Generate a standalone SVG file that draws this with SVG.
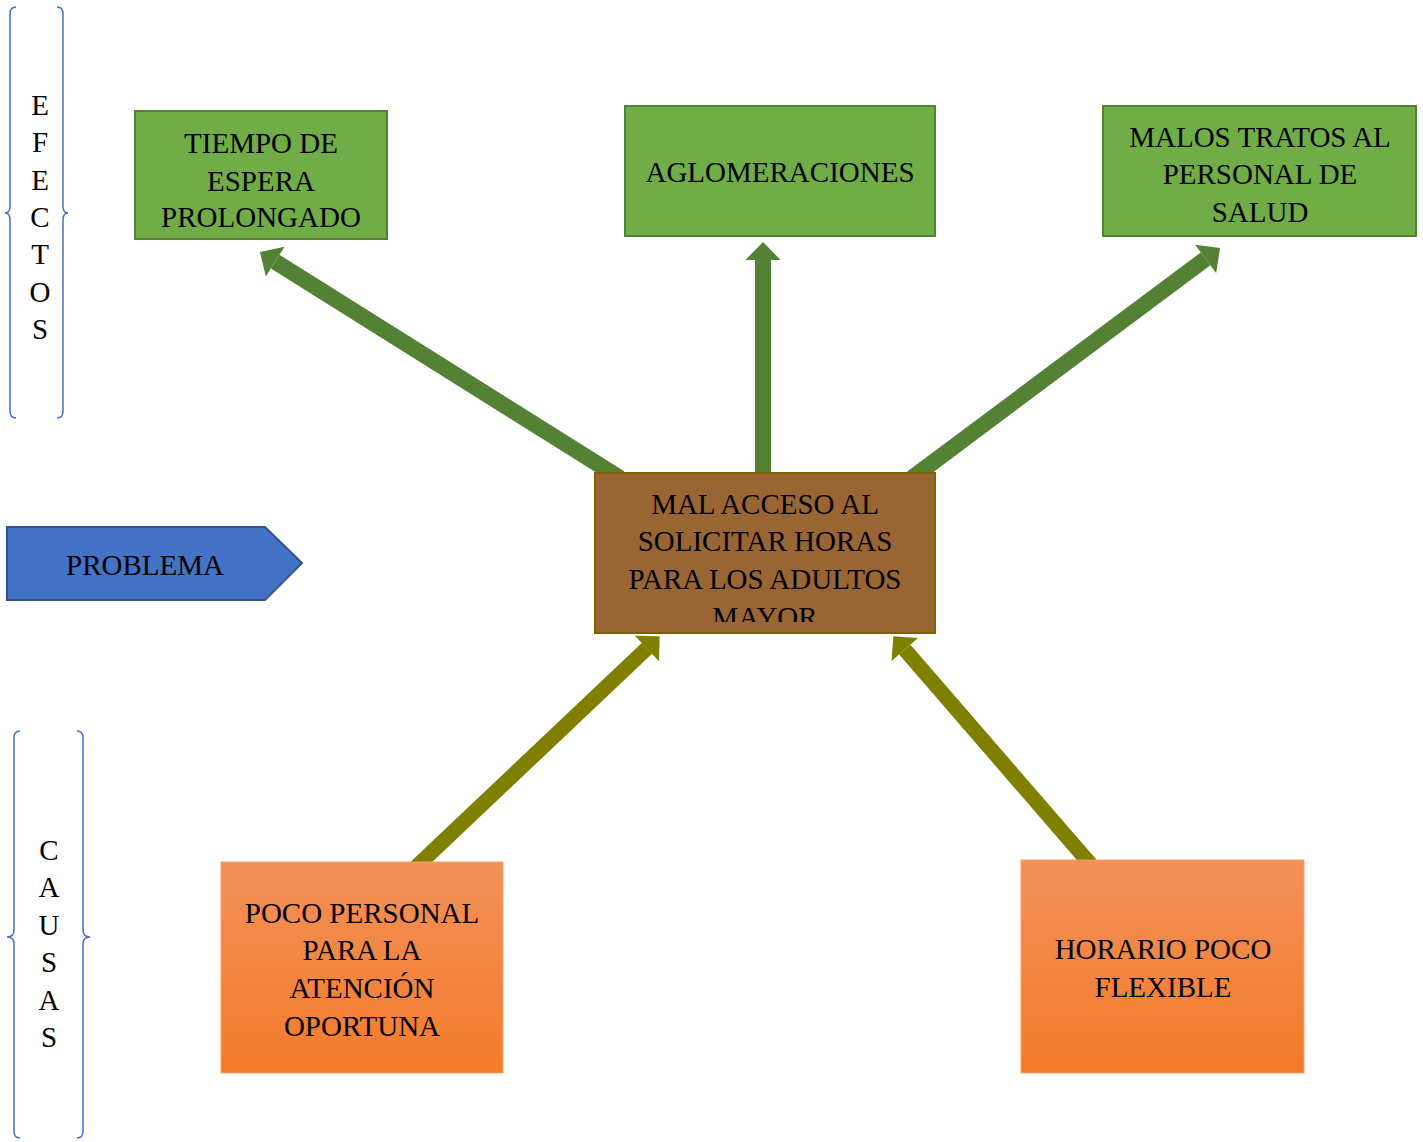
<svg xmlns="http://www.w3.org/2000/svg" width="1423" height="1142" viewBox="0 0 1423 1142">
  <style>
    .t { font-family: "Liberation Serif", "Times New Roman", serif; font-size: 29px; fill: #000; text-anchor: middle; }
    .side { font-family: "Liberation Serif", "Times New Roman", serif; font-size: 29px; fill: #000; text-anchor: middle; }
    .effect { fill: #70AD47; stroke: #548235; stroke-width: 2; }
    .cause { fill: url(#orange); stroke: #F4A46E; stroke-width: 1; }
    .brace { fill: none; stroke: #4472C4; stroke-width: 1.5; }
    .eff-arrow { stroke: #548235; stroke-width: 16; fill: none; marker-end: url(#headGreen); }
    .cau-arrow { stroke: #7F7F00; stroke-width: 15; fill: none; marker-end: url(#headOlive); }
  </style>
  <defs>
    <linearGradient id="orange" x1="0" y1="0" x2="0" y2="1">
      <stop offset="0" stop-color="#F29159"/>
      <stop offset="1" stop-color="#F47B2A"/>
    </linearGradient>
    <marker id="headGreen" markerUnits="strokeWidth" markerWidth="2" markerHeight="3" refX="0" refY="0" viewBox="0 -1.5 2 3" orient="auto" overflow="visible">
      <path d="M0,-1.1 L1.13,0 L0,1.1 z" fill="#548235"/>
    </marker>
    <marker id="headOlive" markerUnits="strokeWidth" markerWidth="2" markerHeight="3" refX="0" refY="0" viewBox="0 -1.5 2 3" orient="auto" overflow="visible">
      <path d="M0,-1.17 L1.17,0 L0,1.17 z" fill="#7F7F00"/>
    </marker>
    <clipPath id="centerClip">
      <rect x="596" y="474" width="338" height="148"/>
    </clipPath>
  </defs>

  <!-- side braces with vertical labels -->
  <g id="efectos">
    <path class="brace" d="M16,7 Q10,7 10,14 L10,206 Q10,213 5,213 Q10,213 10,220 L10,411 Q10,418 16,418"/>
    <path class="brace" d="M57,7 Q63,7 63,14 L63,206 Q63,213 68,213 Q63,213 63,220 L63,411 Q63,418 57,418"/>
    <text class="side" x="40" y="115">E</text>
    <text class="side" x="40" y="152">F</text>
    <text class="side" x="40" y="190">E</text>
    <text class="side" x="40" y="227">C</text>
    <text class="side" x="40" y="264">T</text>
    <text class="side" x="40" y="302">O</text>
    <text class="side" x="40" y="339">S</text>
  </g>
  <g id="causas">
    <path class="brace" d="M20,731 Q14,731 14,738 L14,930 Q14,937 7,937 Q14,937 14,944 L14,1131 Q14,1138 20,1138"/>
    <path class="brace" d="M77,731 Q83,731 83,738 L83,930 Q83,937 90,937 Q83,937 83,944 L83,1131 Q83,1138 77,1138"/>
    <text class="side" x="49" y="860">C</text>
    <text class="side" x="49" y="897">A</text>
    <text class="side" x="49" y="935">U</text>
    <text class="side" x="49" y="972">S</text>
    <text class="side" x="49" y="1010">A</text>
    <text class="side" x="49" y="1047">S</text>
  </g>

  <!-- connectors -->
  <g id="connectors">
    <line class="eff-arrow" x1="620" y1="478" x2="275.2" y2="261.6"/>
    <line class="eff-arrow" x1="763" y1="480" x2="763" y2="260"/>
    <line class="eff-arrow" x1="912" y1="478" x2="1205.6" y2="258.8"/>
    <line class="cau-arrow" x1="415" y1="868" x2="646.9" y2="648.4"/>
    <line class="cau-arrow" x1="1092" y1="866" x2="904.8" y2="649.6"/>
  </g>

  <g id="problema">
    <path d="M7,527 L265,527 L302,563 L265,600 L7,600 z" fill="#4472C4" stroke="#2F528F" stroke-width="2"/>
    <text class="t" x="145" y="575">PROBLEMA</text>
  </g>

  <g id="tiempo">
    <rect class="effect" x="135" y="111" width="252" height="128"/>
    <text class="t" x="261" y="153">TIEMPO DE</text>
    <text class="t" x="261" y="191">ESPERA</text>
    <text class="t" x="261" y="227">PROLONGADO</text>
  </g>

  <g id="aglomeraciones">
    <rect class="effect" x="625" y="106" width="310" height="130"/>
    <text class="t" x="780" y="182">AGLOMERACIONES</text>
  </g>

  <g id="malos-tratos">
    <rect class="effect" x="1103" y="106" width="313" height="130"/>
    <text class="t" x="1260" y="147">MALOS TRATOS AL</text>
    <text class="t" x="1260" y="184">PERSONAL DE</text>
    <text class="t" x="1260" y="222">SALUD</text>
  </g>

  <g id="mal-acceso">
    <rect x="595" y="473" width="340" height="160" fill="#996633" stroke="#7F6000" stroke-width="2"/>
    <g clip-path="url(#centerClip)">
      <text class="t" x="765" y="514">MAL ACCESO AL</text>
      <text class="t" x="765" y="551">SOLICITAR HORAS</text>
      <text class="t" x="765" y="589">PARA LOS ADULTOS</text>
      <text class="t" x="765" y="627">MAYOR</text>
    </g>
  </g>

  <g id="poco-personal">
    <rect class="cause" x="221" y="862" width="282" height="211"/>
    <text class="t" x="362" y="923">POCO PERSONAL</text>
    <text class="t" x="362" y="960">PARA LA</text>
    <text class="t" x="362" y="998">ATENCIÓN</text>
    <text class="t" x="362" y="1036">OPORTUNA</text>
  </g>

  <g id="horario">
    <rect class="cause" x="1021" y="860" width="283" height="213"/>
    <text class="t" x="1163" y="959">HORARIO POCO</text>
    <text class="t" x="1163" y="997">FLEXIBLE</text>
  </g>
</svg>
